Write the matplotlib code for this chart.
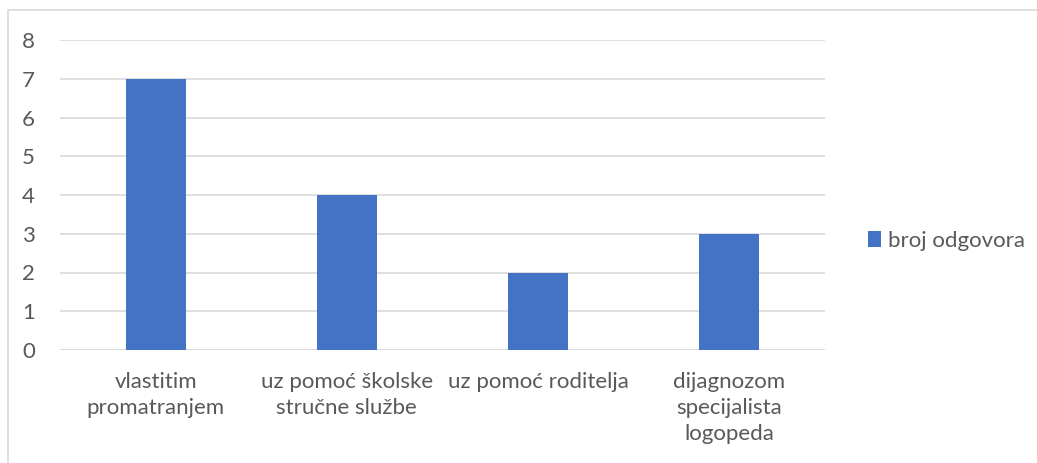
import matplotlib.pyplot as plt
import numpy as np
from matplotlib.patches import Rectangle

categories = ['vlastitim\npromatranjem', 'uz pomoć školske\nstručne službe',
              'uz pomoć roditelja', 'dijagnozom\nspecijalista\nlogopeda']
values = [7, 4, 2, 3]
series_name = 'broj odgovora'

plt.rcParams['font.family'] = ['Lato', 'DejaVu Sans']
text_color = '#595959'
bar_color = '#4472c4'
grid_color = '#d9d9d9'
fs = 16

fig = plt.figure(figsize=(10.37, 4.63), dpi=100)
ax = fig.add_axes([60 / 1037, 113 / 463, 765 / 1037, 310 / 463])

x = np.arange(len(categories))
ax.bar(x, values, width=0.314, color=bar_color, label=series_name, zorder=3)

ax.set_xlim(-0.5, len(categories) - 0.5)
ax.set_ylim(0, 8)
ax.set_yticks(range(0, 9))
ax.yaxis.grid(True, color=grid_color, linewidth=1.2, zorder=0)
for s in ax.spines.values():
    s.set_visible(False)
ax.axhline(0, color=grid_color, linewidth=1.2, zorder=1)

ax.tick_params(axis='y', length=0, pad=18, labelsize=fs, labelcolor=text_color)
ax.tick_params(axis='x', length=0, pad=16, labelsize=fs, labelcolor=text_color)
ax.set_xticks(x)
ax.set_xticklabels(categories, linespacing=1.38, va='top')

leg = fig.legend(loc='center left', bbox_to_anchor=(848 / 1037, 1 - 241 / 463),
                 frameon=False, fontsize=fs, handlelength=0.6, handleheight=0.7,
                 handletextpad=0.3, labelcolor=text_color)

# outer chart border
fig.patches.append(Rectangle((8 / 1037, -0.05), 1.1, 1 - 10 / 463 + 0.05,
                             transform=fig.transFigure, fill=False,
                             edgecolor='#d9d9d9', linewidth=1.2))

fig.savefig('out.png', dpi=100)
